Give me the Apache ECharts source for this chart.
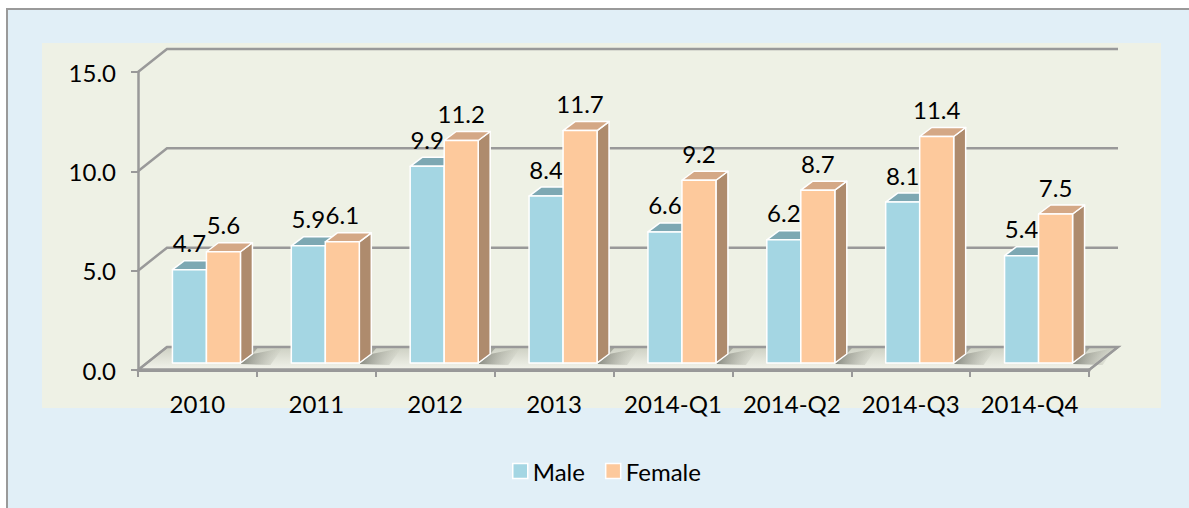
<!DOCTYPE html>
<html><head><meta charset="utf-8">
<script src="https://cdn.jsdelivr.net/npm/echarts@6/dist/echarts.min.js"></script>
<style>html,body{margin:0;padding:0;background:#fff}#c{width:1189px;height:508px}</style>
</head><body><div id="c"></div>
<script>
const categories = ['2010','2011','2012','2013','2014-Q1','2014-Q2','2014-Q3','2014-Q4'];
const maleValues = [4.7, 5.9, 9.9, 8.4, 6.6, 6.2, 8.1, 5.4];
const femaleValues = [5.6, 6.1, 11.2, 11.7, 9.2, 8.7, 11.4, 7.5];
const yTicks = [0, 5, 10, 15];
const seriesNames = ['Male', 'Female'];

const FONT = 'Lato';
const DX = 29, DY = -23;      // wall depth
const BX = 9, BY = -7;        // bar position inside depth
const SX = 12, SY = -9;       // bar depth
const BAR_FRAC = 0.286;
const GRID_COLOR = '#999999';

const palette = {
  Male:   {front: '#a4d6e3', top: '#7da8b3', side: '#6e96a1'},
  Female: {front: '#fdc99c', top: '#d4a886', side: '#ae8b6d'}
};

function renderFrame(params, api) {
  const cs = params.coordSys;
  const v = api.value(1);
  const y = api.coord([0, v])[1];
  const x0 = cs.x, x1 = cs.x + cs.width;
  const children = [];
  if (v === 0) {
    children.push({
      type: 'polygon',
      shape: {points: [[x0, y], [x1, y], [x1 + DX, y + DY], [x0 + DX, y + DY]]},
      style: {
        fill: new echarts.graphic.LinearGradient(0, 0, 0, 1, [
          {offset: 0, color: '#cdd0c3'}, {offset: 1, color: '#f3f4ec'}
        ]),
        stroke: GRID_COLOR, lineWidth: 2
      }
    });
    const bandW = api.size([1, 0])[0];
    const bw = bandW * BAR_FRAC;
    for (let i = 0; i < categories.length; i++) {
      const c = api.coord([i, 0]);
      const xr = c[0] + BX + bw;
      const yb = y + BY;
      children.push({
        type: 'polygon',
        shape: {points: [[xr, yb + 1], [xr + SX, yb + SY], [xr + SX + 30, y + DY + 1], [xr + 30, yb + 2]]},
        style: {
          fill: new echarts.graphic.LinearGradient(0, 0, 1, 0, [
            {offset: 0, color: 'rgba(95,97,88,0.7)'}, {offset: 1, color: 'rgba(150,152,140,0)'}
          ])
        }
      });
      children.push({
        type: 'polygon',
        shape: {points: [[c[0] + BX - bw + SX, yb + SY], [xr + SX, yb + SY], [xr + SX + 6, y + DY], [c[0] + BX - bw + SX + 6, y + DY]]},
        style: {fill: 'rgba(100,102,94,0.4)'}
      });
    }
    children.push({
      type: 'line',
      shape: {x1: x0, y1: y, x2: x1, y2: y},
      style: {stroke: GRID_COLOR, lineWidth: 3.5}
    });
  }
  children.push({
    type: 'polyline',
    shape: {points: [[x0, y], [x0 + DX, y + DY], [x1 + DX, y + DY]].concat(v === 0 ? [[x1, y]] : [])},
    style: {stroke: GRID_COLOR, lineWidth: 2.5, fill: null}
  });
  return {type: 'group', children};
}

function makeBarRender(name, side) {
  const col = palette[name];
  return function (params, api) {
    const i = api.value(0), v = api.value(1);
    const base = api.coord([i, 0]);
    const top = api.coord([i, v]);
    const bw = api.size([1, 0])[0] * BAR_FRAC;
    const xl = base[0] + BX + (side === 0 ? -bw : 0);
    const xr = xl + bw;
    const yb = base[1] + BY, yt = top[1] + BY;
    const st = {stroke: '#ffffff', lineWidth: 1.5, lineJoin: 'round'};
    return {
      type: 'group',
      children: [
        {type: 'polygon', shape: {points: [[xr, yt], [xr + SX, yt + SY], [xr + SX, yb + SY], [xr, yb]]},
         style: Object.assign({fill: col.side}, st)},
        {type: 'polygon', shape: {points: [[xl, yt], [xl + SX, yt + SY], [xr + SX, yt + SY], [xr, yt]]},
         style: Object.assign({fill: col.top}, st)},
        {type: 'rect', shape: {x: xl, y: yt, width: bw, height: yb - yt},
         style: Object.assign({fill: col.front}, st)},
        {type: 'text', x: (xl + xr) / 2, y: yt + SY - 6, z2: 100,
         style: {text: v.toFixed(1), fill: '#000', font: '24px ' + FONT, align: 'center', verticalAlign: 'bottom'}}
      ]
    };
  };
}

const chart = echarts.init(document.getElementById('c'), null, {renderer: 'svg'});
chart.setOption({
  backgroundColor: '#ffffff',
  animation: false,
  color: [palette.Male.front, palette.Female.front],
  textStyle: {fontFamily: FONT},
  graphic: [
    {type: 'rect', z: -20, shape: {x: 7, y: 9, width: 1182, height: 499}, style: {fill: '#e1eff7'}},
    {type: 'polyline', z: -19, shape: {points: [[7, 508], [7, 9], [1189, 9]]}, style: {stroke: '#9a9a9a', lineWidth: 2, fill: null}},
    {type: 'rect', z: -18, shape: {x: 42, y: 43, width: 1119, height: 365}, style: {fill: '#eef1e5'}}
  ],
  grid: {left: 138, right: 100, top: 72, bottom: 138, containLabel: false},
  legend: {
    data: seriesNames,
    left: 507, top: 454,
    icon: 'rect', itemWidth: 15, itemHeight: 15, itemGap: 20,
    itemStyle: {borderColor: '#ffffff', borderWidth: 1.5},
    textStyle: {fontSize: 24, color: '#000', fontFamily: FONT, padding: [0, 0, 0, 0]}
  },
  xAxis: {
    type: 'category',
    data: categories,
    axisLine: {show: true, lineStyle: {color: GRID_COLOR, width: 3}},
    axisTick: {show: true, interval: 0, length: 7, lineStyle: {color: GRID_COLOR, width: 2}},
    axisLabel: {interval: 0, hideOverlap: false, fontSize: 24, color: '#000', margin: 21, fontFamily: FONT},
    splitLine: {show: false}
  },
  yAxis: {
    type: 'value',
    min: 0, max: 15, interval: 5,
    axisLine: {show: true, lineStyle: {color: GRID_COLOR, width: 2.5}},
    axisTick: {show: true, length: 7, lineStyle: {color: GRID_COLOR, width: 2}},
    axisLabel: {fontSize: 24, color: '#000', margin: 22, fontFamily: FONT, formatter: v => v.toFixed(1)},
    splitLine: {show: false}
  },
  series: [
    {type: 'custom', name: '_frame', z: 1, silent: true, renderItem: renderFrame,
     data: yTicks.map(v => [0, v]), encode: {x: 0, y: 1}},
    {type: 'custom', name: seriesNames[0], z: 3, renderItem: makeBarRender('Male', 0),
     itemStyle: {color: palette.Male.front},
     data: maleValues.map((v, i) => [i, v]), encode: {x: 0, y: 1}},
    {type: 'custom', name: seriesNames[1], z: 4, renderItem: makeBarRender('Female', 1),
     itemStyle: {color: palette.Female.front},
     data: femaleValues.map((v, i) => [i, v]), encode: {x: 0, y: 1}}
  ]
});
</script>
</body></html>
